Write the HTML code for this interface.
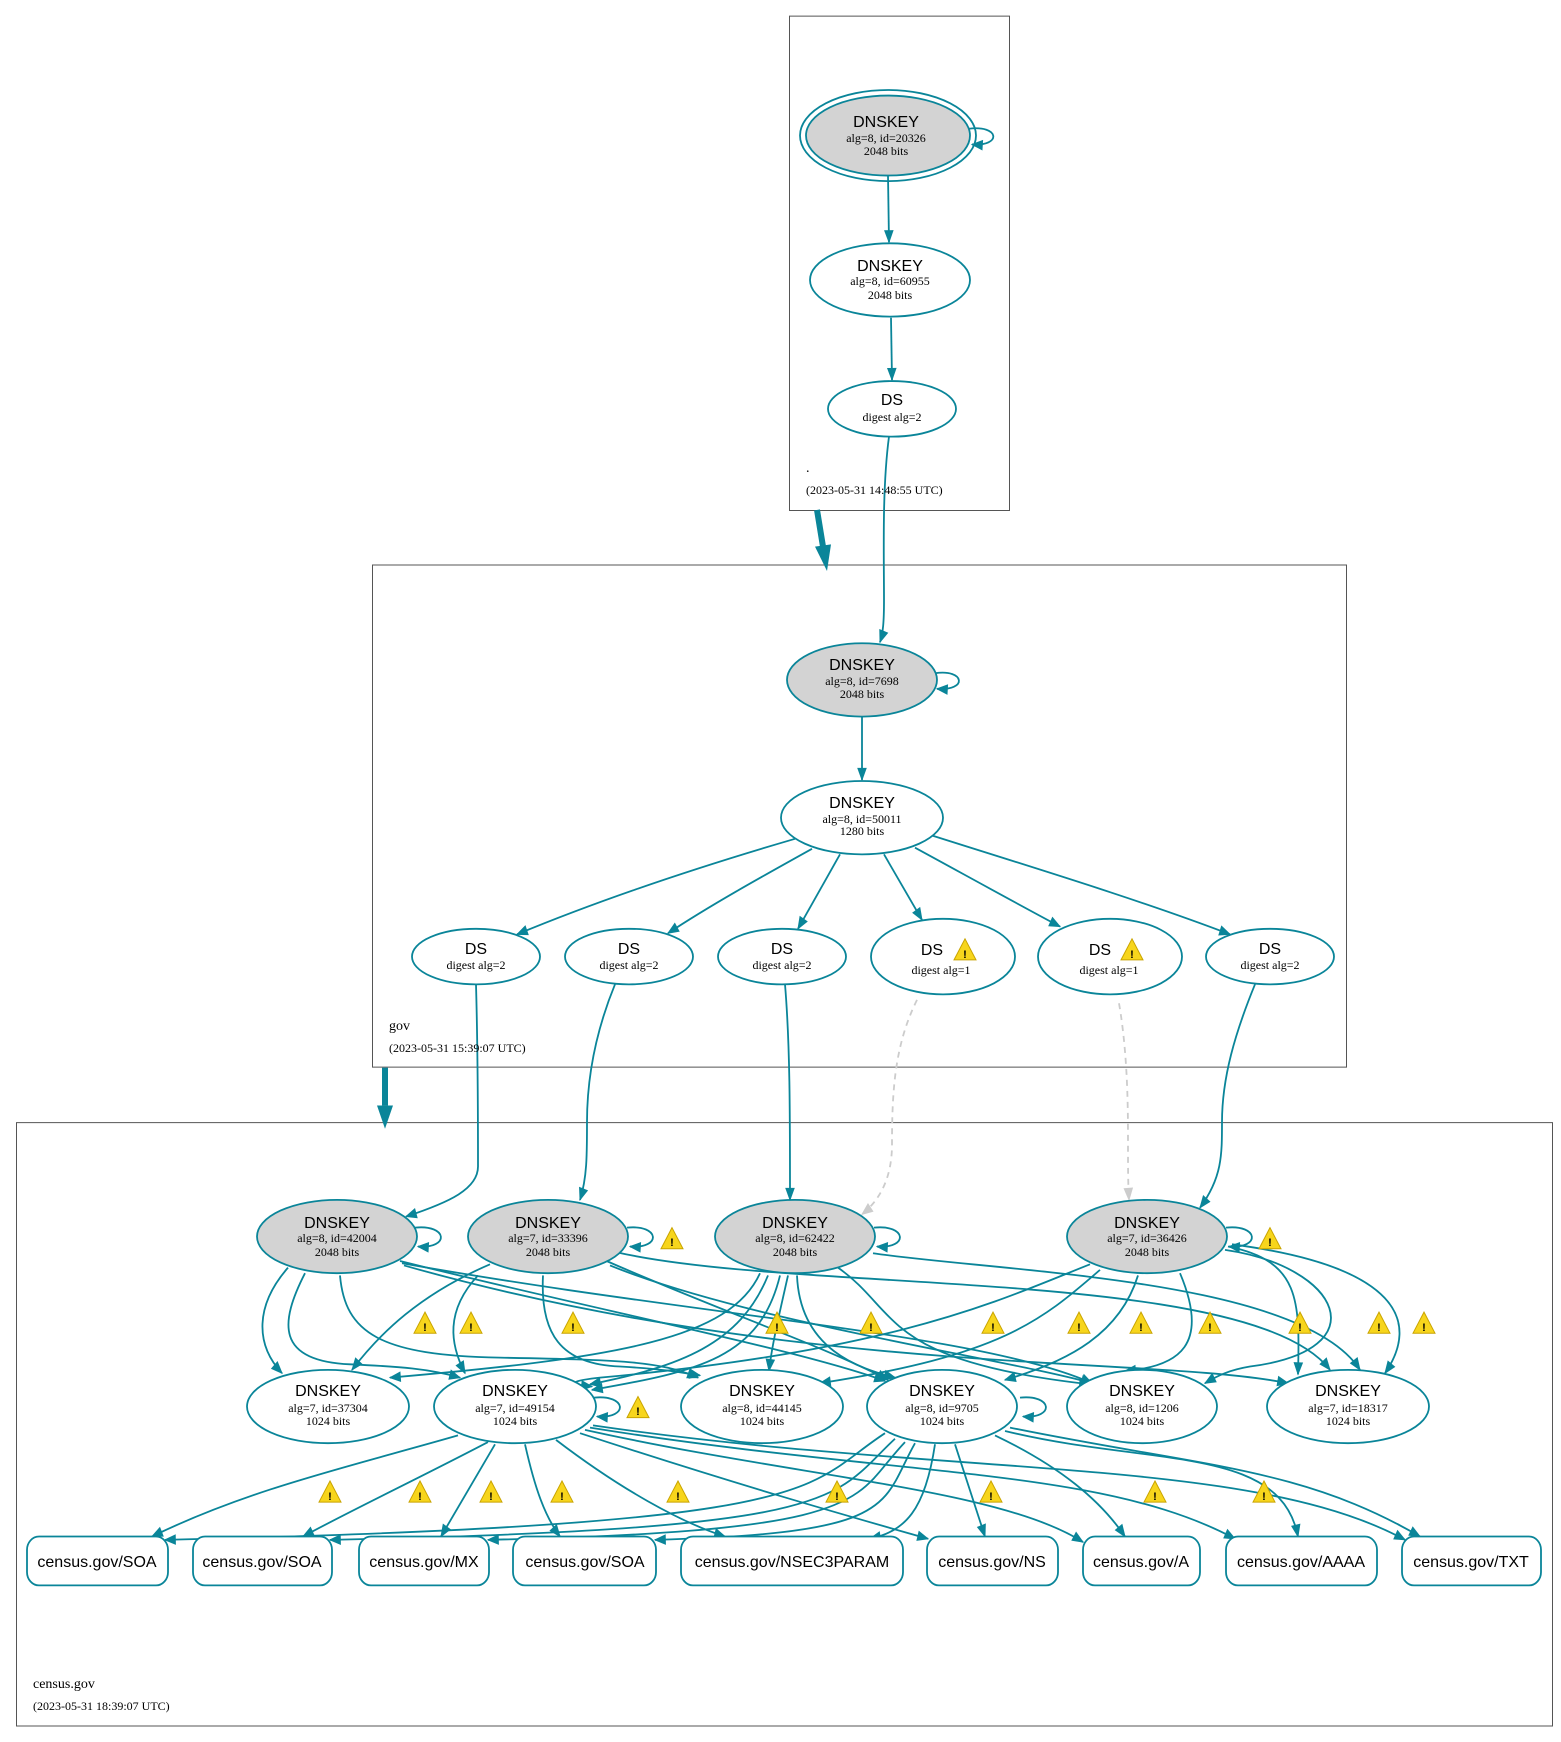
<!DOCTYPE html>
<html><head><meta charset="utf-8"><style>
html,body{margin:0;padding:0;background:#fff}
svg{display:block}
.s{font-family:"Liberation Sans",sans-serif;font-size:16px;text-anchor:middle;fill:#000}
.r{font-family:"Liberation Serif",serif;font-size:12px;text-anchor:middle;fill:#000}
.lbl{font-family:"Liberation Serif",serif;font-size:14px;fill:#000}
.ts{font-family:"Liberation Serif",serif;font-size:12px;fill:#000}
.e{fill:none;stroke:#0a8599;stroke-width:1.8;vector-effect:non-scaling-stroke}
.n{fill:#fff;stroke:#0a8599;stroke-width:1.8;vector-effect:non-scaling-stroke}
.g{fill:#d3d3d3;stroke:#0a8599;stroke-width:1.8;vector-effect:non-scaling-stroke}
.d{fill:none;stroke:#cccccc;stroke-width:1.8;stroke-dasharray:6,5;vector-effect:non-scaling-stroke}
.w{fill:#f7d51c;stroke:#c9a400;stroke-width:1;vector-effect:non-scaling-stroke}
.b{fill:none;stroke:#555;stroke-width:1;vector-effect:non-scaling-stroke}
.wt{font-family:"Liberation Sans",sans-serif;font-size:11px;font-weight:bold;text-anchor:middle;fill:#000}
</style></head><body>
<svg width="1561" height="1742" viewBox="0 0 1561 1742" xmlns="http://www.w3.org/2000/svg">
<defs>
<marker id="a" viewBox="0 0 10 10" refX="9" refY="5" markerWidth="13" markerHeight="12" markerUnits="userSpaceOnUse" orient="auto"><path d="M0,1 L10,5 L0,9 z" fill="#0a8599"/></marker>
<marker id="ag" viewBox="0 0 10 10" refX="9" refY="5" markerWidth="13" markerHeight="12" markerUnits="userSpaceOnUse" orient="auto"><path d="M0,1 L10,5 L0,9 z" fill="#cccccc"/></marker>
</defs>
<rect width="1561" height="1742" fill="#fff"/>
<g transform="scale(1,1.111)">
<rect class="b" x="789.5" y="14.5" width="220" height="445"/>
<rect class="b" x="372.5" y="508.5" width="974" height="452"/>
<rect class="b" x="16.5" y="1010.5" width="1536" height="543"/>
<path d="M817,459 L823,492" stroke="#0a8599" stroke-width="6" fill="none"/>
<path d="M815,492 L827,514 L831,490 z" fill="#0a8599"/>
<path d="M385,961 L385,995" stroke="#0a8599" stroke-width="6" fill="none"/>
<path d="M377,995 L385,1016 L393,995 z" fill="#0a8599"/>

<path class="e" marker-end="url(#a)" d="M888,158 L889,218"/>
<path class="e" marker-end="url(#a)" d="M891,286 L892,342"/>
<path class="e" marker-end="url(#a)" d="M889,393 C882,440 884,500 884,540 C884,560 883,570 880,578"/>
<path class="e" marker-end="url(#a)" d="M968,116 C1000,112 1002,132 972,130"/>
<path class="e" marker-end="url(#a)" d="M935,606 C965,602 968,622 937,620"/>
<path class="e" marker-end="url(#a)" d="M862,645 L862,702"/>
<path class="e" marker-end="url(#a)" d="M795,755 C700,780 600,810 517,841"/>
<path class="e" marker-end="url(#a)" d="M812,764 C760,790 710,815 668,840"/>
<path class="e" marker-end="url(#a)" d="M840,769 L798,836"/>
<path class="e" marker-end="url(#a)" d="M884,769 L922,828"/>
<path class="e" marker-end="url(#a)" d="M915,763 C960,785 1010,810 1060,834"/>
<path class="e" marker-end="url(#a)" d="M932,752 C1030,780 1140,810 1230,841"/>
<path class="e" marker-end="url(#a)" d="M476,886 C478,950 478,1010 478,1050 C478,1070 450,1082 406,1095"/>
<path class="e" marker-end="url(#a)" d="M615,886 C595,930 587,970 587,1010 C587,1040 587,1060 580,1080"/>
<path class="e" marker-end="url(#a)" d="M785,886 C790,940 790,1000 790,1080"/>
<path class="d" marker-end="url(#ag)" d="M917,900 C895,940 892,980 892,1030 C892,1060 880,1080 862,1093"/>
<path class="d" marker-end="url(#ag)" d="M1119,903 C1128,950 1128,1000 1128,1030 C1128,1050 1128,1065 1129,1080"/>
<path class="e" marker-end="url(#a)" d="M1255,886 C1235,930 1222,970 1222,1010 C1222,1040 1222,1060 1200,1087"/>

<path class="e" marker-end="url(#a)" d="M415,1105 C448,1102 450,1124 418,1122"/>
<path class="e" marker-end="url(#a)" d="M627,1105 C660,1102 662,1124 630,1122"/>
<path class="e" marker-end="url(#a)" d="M874,1105 C907,1102 909,1124 877,1122"/>
<path class="e" marker-end="url(#a)" d="M1226,1105 C1259,1102 1261,1124 1229,1122"/>
<path class="e" marker-end="url(#a)" d="M594,1258 C627,1255 629,1277 597,1275"/>
<path class="e" marker-end="url(#a)" d="M1020,1258 C1053,1255 1055,1277 1023,1275"/>

<path class="e" marker-end="url(#a)" d="M288,1141 C255,1175 255,1210 282,1236"/>
<path class="e" marker-end="url(#a)" d="M305,1146 C280,1190 275,1225 350,1228 C400,1230 430,1232 460,1240"/>
<path class="e" marker-end="url(#a)" d="M340,1148 C345,1200 380,1220 500,1222 C620,1224 660,1225 698,1240"/>
<path class="e" marker-end="url(#a)" d="M400,1135 C600,1180 800,1215 885,1243"/>
<path class="e" marker-end="url(#a)" d="M402,1137 C700,1185 980,1200 1092,1245"/>
<path class="e" marker-end="url(#a)" d="M404,1139 C800,1240 1150,1220 1288,1245"/>
<path class="e" marker-end="url(#a)" d="M490,1138 C420,1165 380,1200 352,1233"/>
<path class="e" marker-end="url(#a)" d="M478,1148 C445,1180 450,1210 465,1236"/>
<path class="e" marker-end="url(#a)" d="M543,1148 C540,1200 560,1228 620,1230 C660,1232 680,1235 700,1238"/>
<path class="e" marker-end="url(#a)" d="M604,1134 C720,1180 820,1210 888,1242"/>
<path class="e" marker-end="url(#a)" d="M610,1139 C750,1190 1000,1222 1092,1245"/>
<path class="e" marker-end="url(#a)" d="M616,1127 C800,1165 1250,1140 1330,1233"/>
<path class="e" marker-end="url(#a)" d="M760,1146 C730,1205 620,1222 390,1240"/>
<path class="e" marker-end="url(#a)" d="M768,1148 C740,1210 680,1230 590,1246"/>
<path class="e" marker-end="url(#a)" d="M780,1148 C760,1222 700,1234 592,1251"/>
<path class="e" marker-end="url(#a)" d="M788,1148 C780,1180 772,1210 769,1234"/>
<path class="e" marker-end="url(#a)" d="M797,1148 C800,1215 860,1232 895,1240"/>
<path class="e" marker-end="url(#a)" d="M838,1141 C900,1180 880,1225 1090,1246"/>
<path class="e" marker-end="url(#a)" d="M873,1128 C1000,1145 1300,1150 1360,1233"/>
<path class="e" marker-end="url(#a)" d="M1090,1138 C1000,1170 900,1215 600,1240 C580,1242 560,1245 592,1248"/>
<path class="e" marker-end="url(#a)" d="M1100,1143 C1040,1190 1000,1220 820,1245"/>
<path class="e" marker-end="url(#a)" d="M1138,1148 C1120,1200 1070,1225 1005,1242"/>
<path class="e" marker-end="url(#a)" d="M1180,1146 C1210,1210 1180,1230 1125,1234"/>
<path class="e" marker-end="url(#a)" d="M1225,1125 C1340,1140 1380,1215 1250,1230 C1230,1233 1218,1238 1205,1245"/>
<path class="e" marker-end="url(#a)" d="M1228,1122 C1300,1135 1300,1170 1298,1237"/>
<path class="e" marker-end="url(#a)" d="M1232,1120 C1400,1140 1420,1190 1385,1236"/>

<path class="e" marker-end="url(#a)" d="M458,1292 C350,1320 250,1340 152,1383"/>
<path class="e" marker-end="url(#a)" d="M488,1298 C420,1330 350,1360 303,1383"/>
<path class="e" marker-end="url(#a)" d="M495,1300 L441,1383"/>
<path class="e" marker-end="url(#a)" d="M525,1300 C535,1340 545,1365 560,1383"/>
<path class="e" marker-end="url(#a)" d="M556,1296 C620,1340 680,1370 725,1383"/>
<path class="e" marker-end="url(#a)" d="M580,1290 C750,1340 850,1365 928,1385"/>
<path class="e" marker-end="url(#a)" d="M585,1287 C800,1330 1000,1340 1083,1388"/>
<path class="e" marker-end="url(#a)" d="M590,1285 C900,1330 1100,1320 1235,1385"/>
<path class="e" marker-end="url(#a)" d="M593,1283 C950,1330 1250,1310 1405,1386"/>
<path class="e" marker-end="url(#a)" d="M885,1290 C800,1340 840,1372 165,1386"/>
<path class="e" marker-end="url(#a)" d="M895,1295 C830,1350 850,1376 330,1386"/>
<path class="e" marker-end="url(#a)" d="M905,1298 C850,1350 880,1378 488,1386"/>
<path class="e" marker-end="url(#a)" d="M915,1299 C880,1355 900,1380 655,1386"/>
<path class="e" marker-end="url(#a)" d="M935,1300 C925,1360 905,1378 870,1385"/>
<path class="e" marker-end="url(#a)" d="M955,1300 L985,1383"/>
<path class="e" marker-end="url(#a)" d="M995,1292 C1060,1320 1100,1350 1125,1383"/>
<path class="e" marker-end="url(#a)" d="M1005,1288 C1150,1320 1280,1300 1298,1383"/>
<path class="e" marker-end="url(#a)" d="M1010,1285 C1200,1320 1300,1320 1420,1383"/>

<ellipse class="g" cx="888" cy="122" rx="82" ry="36"/>
<ellipse class="e" cx="888" cy="122" rx="88" ry="41"/>
<ellipse class="n" cx="890" cy="252" rx="80" ry="33"/>
<ellipse class="n" cx="892" cy="368" rx="64" ry="25"/>
<ellipse class="g" cx="862" cy="612" rx="75" ry="33"/>
<ellipse class="n" cx="862" cy="736" rx="81" ry="33"/>
<ellipse class="n" cx="476" cy="861" rx="64" ry="25"/>
<ellipse class="n" cx="629" cy="861" rx="64" ry="25"/>
<ellipse class="n" cx="782" cy="861" rx="64" ry="25"/>
<ellipse class="n" cx="943" cy="861" rx="72" ry="34"/>
<ellipse class="n" cx="1110" cy="861" rx="72" ry="34"/>
<ellipse class="n" cx="1270" cy="861" rx="64" ry="25"/>
<ellipse class="g" cx="337" cy="1113" rx="80" ry="33"/>
<ellipse class="g" cx="548" cy="1113" rx="80" ry="33"/>
<ellipse class="g" cx="795" cy="1113" rx="80" ry="33"/>
<ellipse class="g" cx="1147" cy="1113" rx="80" ry="33"/>
<ellipse class="n" cx="328" cy="1266" rx="81" ry="33"/>
<ellipse class="n" cx="515" cy="1266" rx="81" ry="33"/>
<ellipse class="n" cx="762" cy="1266" rx="81" ry="33"/>
<ellipse class="n" cx="942" cy="1266" rx="75" ry="33"/>
<ellipse class="n" cx="1142" cy="1266" rx="75" ry="33"/>
<ellipse class="n" cx="1348" cy="1266" rx="81" ry="33"/>
<rect class="n" x="27" y="1383" width="141" height="44" rx="12"/>
<rect class="n" x="193" y="1383" width="139" height="44" rx="12"/>
<rect class="n" x="359" y="1383" width="130" height="44" rx="12"/>
<rect class="n" x="513" y="1383" width="143" height="44" rx="12"/>
<rect class="n" x="681" y="1383" width="222" height="44" rx="12"/>
<rect class="n" x="927" y="1383" width="131" height="44" rx="12"/>
<rect class="n" x="1083" y="1383" width="117" height="44" rx="12"/>
<rect class="n" x="1226" y="1383" width="151" height="44" rx="12"/>
<rect class="n" x="1402" y="1383" width="139" height="44" rx="12"/>

<polygon class="w" points="965,845 954,864 976,864"/>
<polygon class="w" points="1132,845 1121,864 1143,864"/>
<polygon class="w" points="672,1105 661,1124 683,1124"/>
<polygon class="w" points="1270,1105 1259,1124 1281,1124"/>
<polygon class="w" points="638,1257 627,1276 649,1276"/>
<polygon class="w" points="425,1181 414,1200 436,1200"/>
<polygon class="w" points="471,1181 460,1200 482,1200"/>
<polygon class="w" points="573,1181 562,1200 584,1200"/>
<polygon class="w" points="777,1181 766,1200 788,1200"/>
<polygon class="w" points="871,1181 860,1200 882,1200"/>
<polygon class="w" points="993,1181 982,1200 1004,1200"/>
<polygon class="w" points="1079,1181 1068,1200 1090,1200"/>
<polygon class="w" points="1141,1181 1130,1200 1152,1200"/>
<polygon class="w" points="1210,1181 1199,1200 1221,1200"/>
<polygon class="w" points="1300,1181 1289,1200 1311,1200"/>
<polygon class="w" points="1379,1181 1368,1200 1390,1200"/>
<polygon class="w" points="1424,1181 1413,1200 1435,1200"/>
<polygon class="w" points="330,1333 319,1352 341,1352"/>
<polygon class="w" points="420,1333 409,1352 431,1352"/>
<polygon class="w" points="491,1333 480,1352 502,1352"/>
<polygon class="w" points="562,1333 551,1352 573,1352"/>
<polygon class="w" points="678,1333 667,1352 689,1352"/>
<polygon class="w" points="837,1333 826,1352 848,1352"/>
<polygon class="w" points="991,1333 980,1352 1002,1352"/>
<polygon class="w" points="1155,1333 1144,1352 1166,1352"/>
<polygon class="w" points="1264,1333 1253,1352 1275,1352"/>
</g>

<text class="lbl" x="806" y="472">.</text>
<text class="ts" x="806" y="494">(2023-05-31 14:48:55 UTC)</text>
<text class="lbl" x="389" y="1030">gov</text>
<text class="ts" x="389" y="1052">(2023-05-31 15:39:07 UTC)</text>
<text class="lbl" x="33" y="1688">census.gov</text>
<text class="ts" x="33" y="1710">(2023-05-31 18:39:07 UTC)</text>

<text class="s" x="886" y="127">DNSKEY</text><text class="r" x="886" y="142">alg=8, id=20326</text><text class="r" x="886" y="155">2048 bits</text>
<text class="s" x="890" y="271">DNSKEY</text><text class="r" x="890" y="285">alg=8, id=60955</text><text class="r" x="890" y="299">2048 bits</text>
<text class="s" x="892" y="405">DS</text><text class="r" x="892" y="421">digest alg=2</text>
<text class="s" x="862" y="670">DNSKEY</text><text class="r" x="862" y="685">alg=8, id=7698</text><text class="r" x="862" y="698">2048 bits</text>
<text class="s" x="862" y="808">DNSKEY</text><text class="r" x="862" y="823">alg=8, id=50011</text><text class="r" x="862" y="835">1280 bits</text>

<text class="s" x="476" y="954">DS</text><text class="r" x="476" y="969">digest alg=2</text>
<text class="s" x="629" y="954">DS</text><text class="r" x="629" y="969">digest alg=2</text>
<text class="s" x="782" y="954">DS</text><text class="r" x="782" y="969">digest alg=2</text>
<text class="s" x="932" y="955">DS</text><text class="r" x="941" y="974">digest alg=1</text>
<text class="s" x="1100" y="955">DS</text><text class="r" x="1109" y="974">digest alg=1</text>
<text class="s" x="1270" y="954">DS</text><text class="r" x="1270" y="969">digest alg=2</text>

<text class="s" x="337" y="1228">DNSKEY</text><text class="r" x="337" y="1242">alg=8, id=42004</text><text class="r" x="337" y="1256">2048 bits</text>
<text class="s" x="548" y="1228">DNSKEY</text><text class="r" x="548" y="1242">alg=7, id=33396</text><text class="r" x="548" y="1256">2048 bits</text>
<text class="s" x="795" y="1228">DNSKEY</text><text class="r" x="795" y="1242">alg=8, id=62422</text><text class="r" x="795" y="1256">2048 bits</text>
<text class="s" x="1147" y="1228">DNSKEY</text><text class="r" x="1147" y="1242">alg=7, id=36426</text><text class="r" x="1147" y="1256">2048 bits</text>

<text class="s" x="328" y="1396">DNSKEY</text><text class="r" x="328" y="1412">alg=7, id=37304</text><text class="r" x="328" y="1425">1024 bits</text>
<text class="s" x="515" y="1396">DNSKEY</text><text class="r" x="515" y="1412">alg=7, id=49154</text><text class="r" x="515" y="1425">1024 bits</text>
<text class="s" x="762" y="1396">DNSKEY</text><text class="r" x="762" y="1412">alg=8, id=44145</text><text class="r" x="762" y="1425">1024 bits</text>
<text class="s" x="942" y="1396">DNSKEY</text><text class="r" x="942" y="1412">alg=8, id=9705</text><text class="r" x="942" y="1425">1024 bits</text>
<text class="s" x="1142" y="1396">DNSKEY</text><text class="r" x="1142" y="1412">alg=8, id=1206</text><text class="r" x="1142" y="1425">1024 bits</text>
<text class="s" x="1348" y="1396">DNSKEY</text><text class="r" x="1348" y="1412">alg=7, id=18317</text><text class="r" x="1348" y="1425">1024 bits</text>

<text class="s" x="97" y="1567">census.gov/SOA</text>
<text class="s" x="262" y="1567">census.gov/SOA</text>
<text class="s" x="424" y="1567">census.gov/MX</text>
<text class="s" x="585" y="1567">census.gov/SOA</text>
<text class="s" x="792" y="1567">census.gov/NSEC3PARAM</text>
<text class="s" x="992" y="1567">census.gov/NS</text>
<text class="s" x="1141" y="1567">census.gov/A</text>
<text class="s" x="1301" y="1567">census.gov/AAAA</text>
<text class="s" x="1471" y="1567">census.gov/TXT</text>

<text class="wt" x="965" y="958">!</text>
<text class="wt" x="1132" y="958">!</text>
<text class="wt" x="672" y="1246">!</text>
<text class="wt" x="1270" y="1246">!</text>
<text class="wt" x="638" y="1415">!</text>
<text class="wt" x="425" y="1331">!</text><text class="wt" x="471" y="1331">!</text><text class="wt" x="573" y="1331">!</text><text class="wt" x="777" y="1331">!</text><text class="wt" x="871" y="1331">!</text><text class="wt" x="993" y="1331">!</text><text class="wt" x="1079" y="1331">!</text><text class="wt" x="1141" y="1331">!</text><text class="wt" x="1210" y="1331">!</text><text class="wt" x="1300" y="1331">!</text><text class="wt" x="1379" y="1331">!</text><text class="wt" x="1424" y="1331">!</text>
<text class="wt" x="330" y="1500">!</text><text class="wt" x="420" y="1500">!</text><text class="wt" x="491" y="1500">!</text><text class="wt" x="562" y="1500">!</text><text class="wt" x="678" y="1500">!</text><text class="wt" x="837" y="1500">!</text><text class="wt" x="991" y="1500">!</text><text class="wt" x="1155" y="1500">!</text><text class="wt" x="1264" y="1500">!</text>
</svg>
</body></html>
